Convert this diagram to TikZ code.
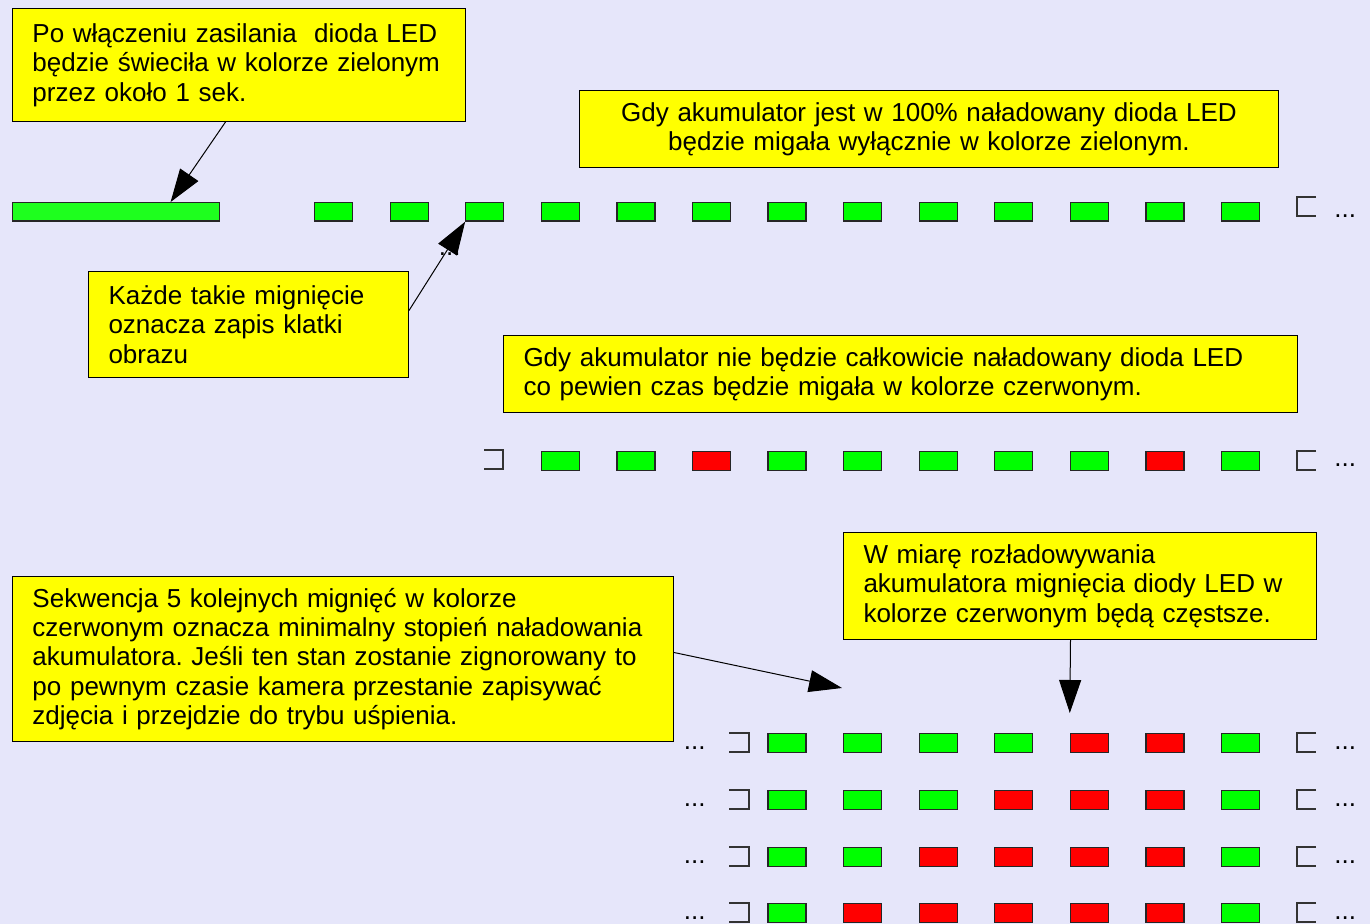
\documentclass[tikz,border=0pt]{standalone}
\usepackage{fontspec}
\setmainfont{Liberation Sans}
\usetikzlibrary{arrows.meta}
\definecolor{bgfill}{RGB}{230,230,250}
\definecolor{notefill}{RGB}{255,255,0}
\definecolor{ledgreen}{RGB}{0,255,0}
\definecolor{ledlong}{RGB}{30,255,30}
\definecolor{ledred}{RGB}{255,0,0}
\frenchspacing

\begin{document}
\begin{tikzpicture}[
  x=0.5pt, y=-0.5pt,
  font=\fontsize{13}{14.7}\selectfont,
  note/.style={
    draw=black, fill=notefill, line width=0.5pt, anchor=north west,
    inner xsep=10pt, inner ysep=0pt, align=left
  },
  led/.style={
    draw=black!85, fill=ledgreen, line width=0.6pt, anchor=north west,
    minimum width=19pt, minimum height=9.5pt, inner sep=0pt
  },
  dots/.style={anchor=base west, inner sep=0pt},
  bracket/.style={draw=black!80, line width=0.6pt},
  callout/.style={draw=black, line width=0.5pt,
    -{Triangle[length=16.5pt, width=11pt]}},
]

% ---- Background and bounding box ----
\fill[bgfill] (0,0) rectangle (1370,924);
\useasboundingbox (0,0) rectangle (1370,924);

% ---- Notes ----
\node (powerbox) at (12,8)    [note, text width=206.5pt, minimum height=56.5pt]
  {Po włączeniu zasilania\ \ dioda LED\\będzie świeciła w kolorze zielonym\\przez około 1 sek.};
\node (fullbox)  at (579,90)  [note, align=center, text width=329.5pt, minimum height=38.5pt]
  {Gdy akumulator jest w 100\% naładowany dioda LED\\będzie migała wyłącznie w kolorze zielonym.};
\node (framebox) at (88,271)  [note, text width=140pt, minimum height=53pt]
  {Każde takie mignięcie\\oznacza zapis klatki\\obrazu};
\node (partbox)  at (503,335) [note, text width=377pt, minimum height=38.5pt]
  {Gdy akumulator nie będzie całkowicie naładowany dioda LED\\co pewien czas będzie migała w kolorze czerwonym.};
\node (fadebox)  at (843,532) [note, text width=216.5pt, minimum height=53.5pt]
  {W miarę rozładowywania\\akumulatora mignięcia diody LED w\\kolorze czerwonym będą częstsze.};
\node (lowbox)   at (12,576)  [note, text width=310.5pt, minimum height=82.5pt]
  {Sekwencja 5 kolejnych mignięć w kolorze\\czerwonym oznacza minimalny stopień naładowania\\akumulatora. Jeśli ten stan zostanie zignorowany to\\po pewnym czasie kamera przestanie zapisywać\\zdjęcia i przejdzie do trybu uśpienia.};

% ---- Row 1: power on, then full battery ----
\node (longbar) at (12,202) [led, fill=ledlong, minimum width=103.5pt, minimum height=9.25pt] {};
\foreach \k in {0,...,12}
  \node (a\k) at ({314+75.58*\k},202) [led, minimum height=9.25pt] {};
\draw[bracket] (1316,197) -- (1297,197) -- (1297,216) -- (1316,216);
\node (adots) at (1334,218) [dots] {...};

% ---- Row 2: partly charged ----
\draw[bracket] (484,450) -- (503,450) -- (503,469) -- (484,469);
\foreach \k/\c in {3/ledgreen, 4/ledgreen, 5/ledred, 6/ledgreen, 7/ledgreen,
                   8/ledgreen, 9/ledgreen, 10/ledgreen, 11/ledred, 12/ledgreen}
  \node (b\k) at ({314+75.58*\k},451) [led, fill=\c] {};
\draw[bracket] (1316,451) -- (1297,451) -- (1297,470) -- (1316,470);
\node (bdots) at (1334,467) [dots] {...};

% ---- Rows 3-6: discharging ----
\foreach \r/\y in {0/733, 1/790, 2/847, 3/903} {
  \node (l\r) at (683.5,\y+16) [dots] {...};
  \draw[bracket] (729,\y) -- (749,\y) -- (749,\y+19) -- (729,\y+19);
  \foreach \k in {6,...,12} {
    \pgfmathtruncatemacro{\isred}{(\k>=10-\r)&&(\k<12)}
    \ifnum\isred=1 \def\c{ledred}\else\def\c{ledgreen}\fi
    \node (r\r c\k) at ({314+75.58*\k},\y) [led, fill=\c] {};
  }
  \draw[bracket] (1316,\y) -- (1297,\y) -- (1297,\y+19) -- (1316,\y+19);
  \node (e\r) at (1334,\y+16) [dots] {...};
}

% ---- Callouts ----
\coordinate (lowtip) at (842,688);
\draw[callout] ([xshift=-6.75pt]powerbox.south) -- ([xshift=27.25pt]longbar.north);
\draw[callout] ([yshift=7pt]framebox.east) -- (a2.south west);
\draw[callout] ([xshift=-4.75pt]fadebox.south) -- ([yshift=10pt]r0c10.north west);
\draw[callout] ([yshift=3.25pt]lowbox.east) -- (lowtip);
\node (xdots) at (438.5,256) [dots] {...};

\end{tikzpicture}
\end{document}
